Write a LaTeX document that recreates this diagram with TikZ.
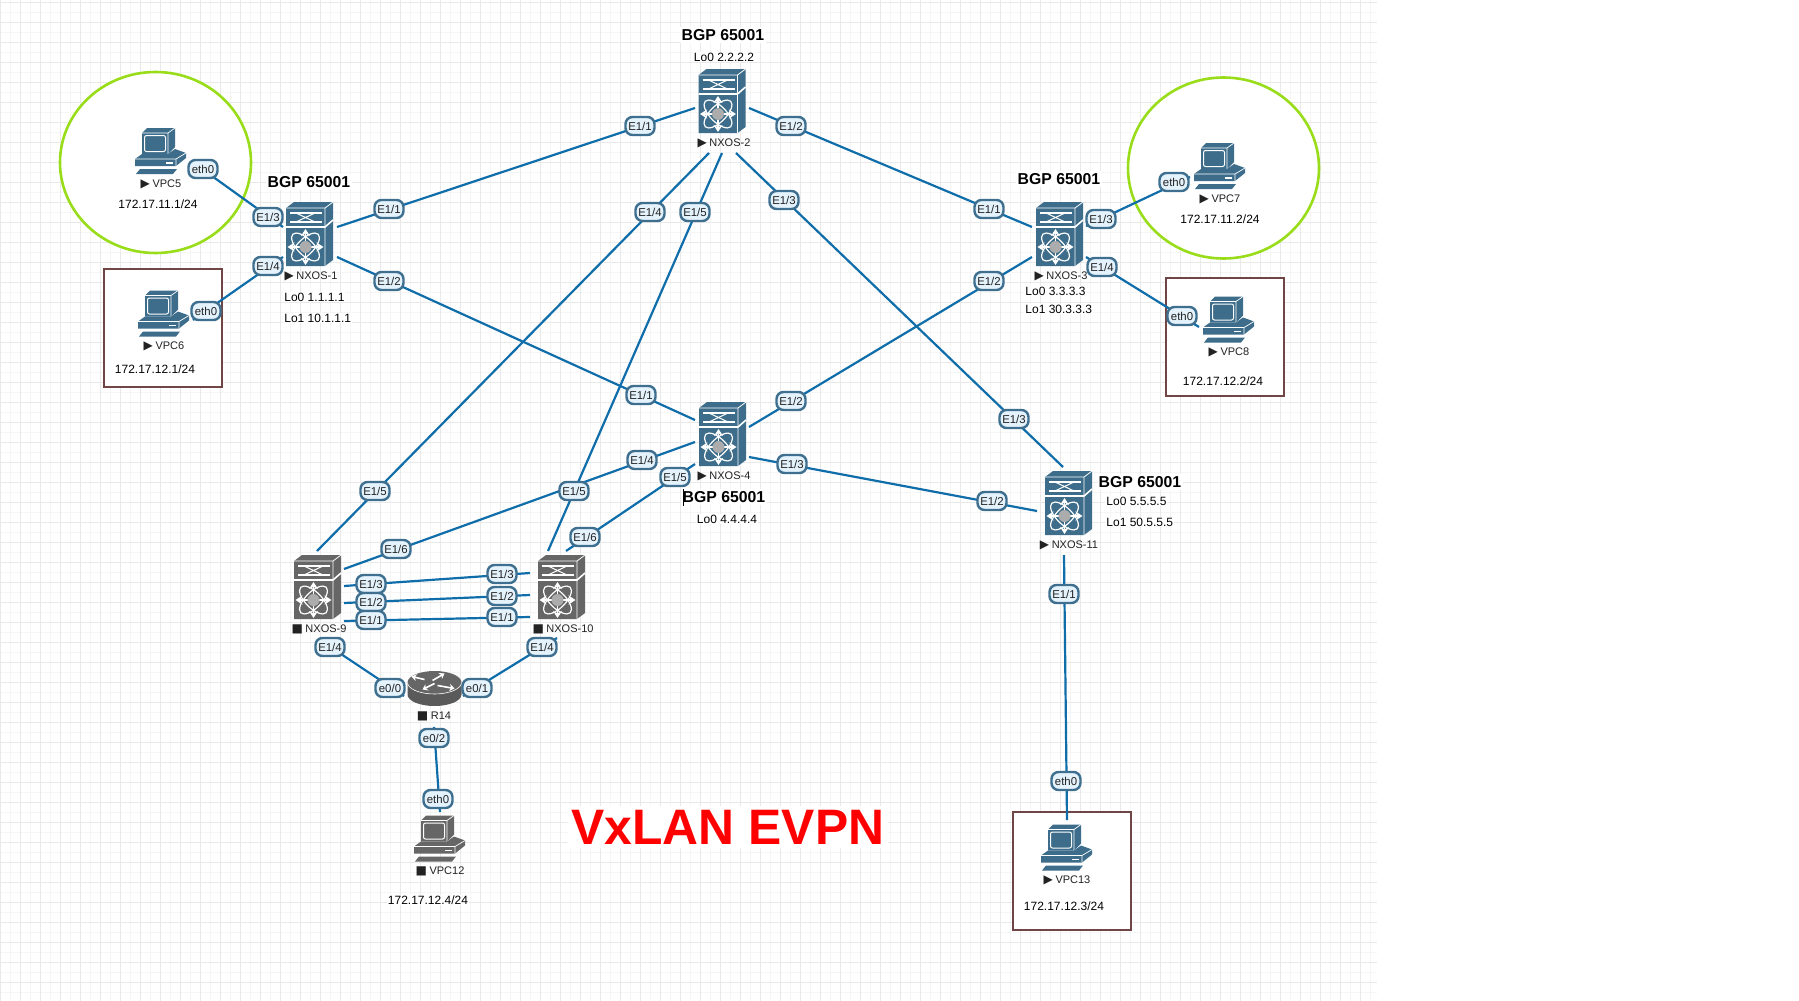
\documentclass[tikz,border=0pt]{standalone}
\usepackage{fontspec}
\setmainfont{Liberation Sans}
\newfontfamily\symf{DejaVu Sans}
\usetikzlibrary{arrows.meta,shapes.geometric}
\definecolor{swblue}{HTML}{3D6D8B}
\definecolor{swgrey}{HTML}{666666}
\definecolor{linkc}{HTML}{0F6DAA}
\definecolor{pillb}{HTML}{3F6F8F}
\definecolor{pillf}{HTML}{E4F2FC}
\definecolor{gridmin}{HTML}{F5F5F5}
\definecolor{gridmaj}{HTML}{E9E9E9}
\definecolor{zonegreen}{HTML}{99DD1A}
\definecolor{zonebrown}{HTML}{704545}
\definecolor{txt}{HTML}{222222}
\definecolor{hubgrey}{HTML}{ACACAC}
\newcommand\lnk[6]{\draw[linkline] ([shift={(#2,#3)}]#1.center) -- ([shift={(#5,#6)}]#4.center);}
\newcommand\mkrun{{\symf\fontsize{6}{6}\selectfont\char"25B6}\hspace{1.3pt}}
\newcommand\mkstop{{\symf\fontsize{6}{6}\selectfont\char"25A0}\hspace{1.3pt}}
\tikzset{
  x=0.5pt,y=-0.5pt,
  linkline/.style={draw=linkc,line width=1.1pt},
  pill/.style={draw=pillb,fill=pillf,line width=1.2pt,rounded corners=3.5pt,inner sep=0pt,
    minimum width=14.5pt,minimum height=9pt,font=\fontsize{5.7}{6}\selectfont,text=txt},
  devname/.style={inner sep=0pt,font=\fontsize{5.5}{6}\selectfont,text=txt},
  ipaddr/.style={inner sep=0.5pt,fill=white,font=\fontsize{6}{7}\selectfont,text=black},
  loaddr/.style={inner sep=0.5pt,fill=white,anchor=west,font=\fontsize{6}{7}\selectfont,text=black},
  bgp/.style={inner sep=1pt,fill=white,font=\bfseries\fontsize{7.9}{9}\selectfont,text=black},
  swbox/.style={inner sep=0pt,minimum width=23.5pt,minimum height=32pt},
  pcbox/.style={inner sep=0pt,minimum width=25.5pt,minimum height=23pt},
  rtbox/.style={inner sep=0pt,minimum width=27.5pt,minimum height=17.5pt},
  zonecirc/.style={ellipse,inner sep=0pt,draw=zonegreen,fill=white,line width=1.3pt,minimum width=95.5pt,minimum height=90.5pt},
  zonerect/.style={rectangle,inner sep=0pt,draw=zonebrown,fill=white,line width=1.4pt,minimum width=59pt,minimum height=59pt},
  pics/swt/.style={code={
    \begin{scope}[shift={(-23.5,-32)}]
      \fill[#1] (0,6)--(8,0)--(47,0)--(47,58)--(39,64)--(0,64)--cycle;
      \draw[white,line width=.4pt] (0,6)--(39,6)--(47,0) (39,6)--(39,64);
      \draw[white,line width=.8pt] (0,25)--(39,25)--(47,18);
      \draw[white,line width=1pt] (4,11)--(36,11) (4,20)--(36,20);
      \draw[white,line width=.5pt] (10,11)--(29,20) (10,20)--(29,11);
      \begin{scope}[shift={(19.5,45)}]
        \draw[white,line width=.6pt,rotate=45] (0,0) ellipse [x radius=18,y radius=8];
        \draw[white,line width=.6pt,rotate=-45] (0,0) ellipse [x radius=18,y radius=8];
        \draw[white,line width=.8pt,{Stealth[length=3.5pt,width=4.5pt]}-{Stealth[length=3.5pt,width=4.5pt]}] (-18,0)--(18,0);
        \draw[white,line width=.8pt,{Stealth[length=3.5pt,width=4.5pt]}-{Stealth[length=3.5pt,width=4.5pt]}] (0,-18)--(0,18);
        \fill[hubgrey] (0,0) circle [radius=6];
      \end{scope}
    \end{scope}}},
  pics/pcicon/.style={code={
    \begin{scope}[shift={(-25.5,-23)}]
      \fill[#1] (7,5)--(12,0)--(40,0)--(40,19)--(33,26)--(7,26)--cycle;
      \draw[white,line width=.35pt] (7,5)--(33,5)--(40,0) (33,5)--(33,26);
      \draw[white,line width=.5pt,rounded corners=1pt] (9.5,7.5) rectangle (30.5,23.5);
      \fill[#1] (0,31)--(7,26)--(33,26)--(40,21)--(51,25)--(51,30)--(41,38)--(0,38)--cycle;
      \draw[white,line width=.35pt] (0,31)--(41,31)--(51,25) (41,31)--(41,38);
      \fill[white] (31,34) rectangle (38,35.5);
      \fill[#1] (1,46)--(5,41)--(42,41)--(38,46)--cycle;
    \end{scope}}},
  pics/rticon/.style={code={
    \fill[#1!88!black] (-27,-6)--(-27,6) arc[start angle=180,end angle=0,x radius=27,y radius=11.5]--(27,-6)--cycle;
    \fill[#1] (0,-6) ellipse [x radius=27,y radius=11.5];
    \draw[white,line width=.3pt] (-27,-6) arc[start angle=180,end angle=0,x radius=27,y radius=11.5];
    \begin{scope}[white,line width=.8pt,-{Stealth[length=2.5pt,width=3.5pt]}]
      \draw (-10,-9)--(-23,-12);
      \draw (-2,-8)--(10,-15);
      \draw (0,-5)--(-12,1);
      \draw (3,-3)--(20,0);
    \end{scope}}},
}
\begin{document}
\begin{tikzpicture}
\useasboundingbox (0,0) rectangle (1799,1001);
\fill[white] (0,0) rectangle (1799,1001);
% grid
\foreach \gx in {0,10,...,1370} \draw[gridmin,line width=.5pt] (\gx,0)--(\gx,1001);
\foreach \gy in {2,12,...,1000} \draw[gridmin,line width=.5pt] (0,\gy)--(1377,\gy);
\foreach \gx in {0,20,...,1370} \draw[gridmaj,line width=.5pt] (\gx,0)--(\gx,1001);
\foreach \gy in {2,22,...,1000} \draw[gridmaj,line width=.5pt] (0,\gy)--(1377,\gy);
% zones
\node[zonecirc] (zc1) at (155.5,162.5) {};
\node[zonecirc] (zc2) at (1223.5,168) {};
\node[zonerect] (zr1) at (163,328) {};
\node[zonerect] (zr2) at (1225,337) {};
\node[zonerect] (zr3) at (1072,871) {};
% devices
\node[swbox] (n1) at (309.5,234) {};
\node[swbox] (n2) at (722,101) {};
\node[swbox] (n3) at (1059.5,234) {};
\node[swbox] (n4) at (722.5,434) {};
\node[swbox] (n9) at (317.5,587) {};
\node[swbox] (n10) at (561.5,587) {};
\node[swbox] (n11) at (1068.5,503) {};
\node[rtbox] (r14) at (434.5,688.5) {};
\node[pcbox] (v5) at (160.5,151) {};
\node[pcbox] (v6) at (163.5,313.5) {};
\node[pcbox] (v7) at (1219.5,166) {};
\node[pcbox] (v8) at (1228.5,319.5) {};
\node[pcbox] (v12) at (439.5,838.5) {};
\node[pcbox] (v13) at (1066.5,847.5) {};
% connectors
\lnk{n1}{27.5}{-7}{n2}{-27}{7}
\lnk{n1}{27.5}{23}{n4}{-27.5}{-14}
\lnk{v5}{30.5}{10}{n1}{-26.5}{-7}
\lnk{v6}{29.5}{6.5}{n1}{-26.5}{23}
\lnk{n2}{27}{7}{n3}{-27.5}{-7}
\lnk{n2}{-13}{52}{n9}{-0.5}{-36}
\lnk{n2}{0}{52}{n10}{-13.5}{-36}
\lnk{n2}{14}{52}{n11}{-5.5}{-36}
\lnk{n3}{-27.5}{23}{n4}{26.5}{-7}
\lnk{n3}{26.5}{-8}{v7}{-29.5}{11}
\lnk{n3}{26.5}{23}{v8}{-29.5}{7.5}
\lnk{n4}{26.5}{23}{n11}{-31.5}{8}
\lnk{n4}{-27.5}{8}{n9}{26.5}{-18}
\lnk{n4}{-27.5}{30}{n10}{4.5}{-36}
\lnk{n9}{26.5}{-1}{n10}{-31.5}{-14}
\lnk{n9}{26.5}{16}{n10}{-31.5}{8}
\lnk{n9}{26.5}{34}{n10}{-31.5}{30}
\lnk{n9}{2.5}{53}{r14}{-30.5}{7.5}
\lnk{n10}{-4.5}{51}{r14}{28.5}{7.5}
\lnk{r14}{-0.5}{38.5}{v12}{0.5}{-26.5}
\lnk{n11}{-4.5}{52}{v13}{0.5}{-27.5}
% icons
\foreach \d in {n1,n2,n3,n4,n11} \pic at (\d) {swt=swblue};
\foreach \d in {n9,n10} \pic at (\d) {swt=swgrey};
\foreach \d in {v5,v6,v7,v8,v13} \pic at (\d) {pcicon=swblue};
\pic at (v12) {pcicon=swgrey};
\pic at (r14) {rticon=swgrey};
% interface labels
\node[pill] (p1) at (268,217) {E1/3};
\node[pill] (p2) at (268,266) {E1/4};
\node[pill] (p3) at (389,209) {E1/1};
\node[pill] (p4) at (389,281) {E1/2};
\node[pill] (p5) at (203,169) {eth0};
\node[pill] (p6) at (206,311) {eth0};
\node[pill] (p7) at (640,126) {E1/1};
\node[pill] (p8) at (791,126) {E1/2};
\node[pill] (p9) at (784,200) {E1/3};
\node[pill] (p10) at (650,212) {E1/4};
\node[pill] (p11) at (695,212) {E1/5};
\node[pill] (p12) at (989,209) {E1/1};
\node[pill] (p13) at (989,281) {E1/2};
\node[pill] (p14) at (1101,219) {E1/3};
\node[pill] (p15) at (1102,267) {E1/4};
\node[pill] (p16) at (1174,182) {eth0};
\node[pill] (p17) at (1182,316) {eth0};
\node[pill] (p18) at (641,395) {E1/1};
\node[pill] (p19) at (791,401) {E1/2};
\node[pill] (p20) at (642,460) {E1/4};
\node[pill] (p21) at (675,477) {E1/5};
\node[pill] (p22) at (792,464) {E1/3};
\node[pill] (p23) at (1014,419) {E1/3};
\node[pill] (p24) at (992,501) {E1/2};
\node[pill] (p25) at (375,491) {E1/5};
\node[pill] (p26) at (396,549) {E1/6};
\node[pill] (p27) at (574,491) {E1/5};
\node[pill] (p28) at (585,537) {E1/6};
\node[pill] (p29) at (371,584) {E1/3};
\node[pill] (p30) at (371,602) {E1/2};
\node[pill] (p31) at (371,620) {E1/1};
\node[pill] (p32) at (502,574) {E1/3};
\node[pill] (p33) at (502,596) {E1/2};
\node[pill] (p34) at (502,617) {E1/1};
\node[pill] (p35) at (330,647) {E1/4};
\node[pill] (p36) at (542,647) {E1/4};
\node[pill] (p37) at (390,688) {e0/0};
\node[pill] (p38) at (477,688) {e0/1};
\node[pill] (p39) at (434,738) {e0/2};
\node[pill] (p40) at (438,799) {eth0};
\node[pill] (p41) at (1064,594) {E1/1};
\node[pill] (p42) at (1066,781) {eth0};
% device names
\node[devname] (t1) at (311,276) {\mkrun NXOS-1};
\node[devname] (t2) at (724,143) {\mkrun NXOS-2};
\node[devname] (t3) at (1061,276) {\mkrun NXOS-3};
\node[devname] (t4) at (724,476) {\mkrun NXOS-4};
\node[devname] (t5) at (1069,545) {\mkrun NXOS-11};
\node[devname] (t6) at (319,629) {\mkstop NXOS-9};
\node[devname] (t7) at (563,629) {\mkstop NXOS-10};
\node[devname] (t8) at (434,716) {\mkstop R14};
\node[devname] (t9) at (161,184) {\mkrun VPC5};
\node[devname] (t10) at (164,346) {\mkrun VPC6};
\node[devname] (t11) at (1220,199) {\mkrun VPC7};
\node[devname] (t12) at (1229,352) {\mkrun VPC8};
\node[devname] (t13) at (440,871) {\mkstop VPC12};
\node[devname] (t14) at (1067,880) {\mkrun VPC13};
% addresses
\node[ipaddr] (a1) at (158,204) {172.17.11.1/24};
\node[ipaddr] (a2) at (155,369) {172.17.12.1/24};
\node[ipaddr] (a3) at (1220,219) {172.17.11.2/24};
\node[ipaddr] (a4) at (1223,381) {172.17.12.2/24};
\node[ipaddr] (a5) at (1064,906) {172.17.12.3/24};
\node[ipaddr] (a6) at (428,900) {172.17.12.4/24};
\node[loaddr] (lo1) at (283,297) {Lo0 1.1.1.1};
\node[loaddr] (lo2) at (283,318) {Lo1 10.1.1.1};
\node[ipaddr] (lo3) at (724,57) {Lo0 2.2.2.2};
\node[loaddr] (lo4) at (1024,291) {Lo0 3.3.3.3};
\node[loaddr] (lo5) at (1024,309) {Lo1 30.3.3.3};
\node[ipaddr] (lo6) at (727,519) {Lo0 4.4.4.4};
\node[loaddr] (lo7) at (1105,501) {Lo0 5.5.5.5};
\node[loaddr] (lo8) at (1105,522) {Lo1 50.5.5.5};
% BGP titles
\node[bgp] (b1) at (309,182) {BGP 65001};
\node[bgp] (b2) at (723,35) {BGP 65001};
\node[bgp] (b3) at (1059,179) {BGP 65001};
\node[bgp] (b4) at (724,497) {BGP 65001};
\node[bgp] (b5) at (1140,482) {BGP 65001};
\draw[black,line width=.5pt] (683,489)--(683,506);
% title
\node[fill=white,inner sep=2pt,text=red,font=\bfseries\fontsize{24.9}{27}\selectfont] (title) at (728,827) {VxLAN EVPN};
\end{tikzpicture}
\end{document}
